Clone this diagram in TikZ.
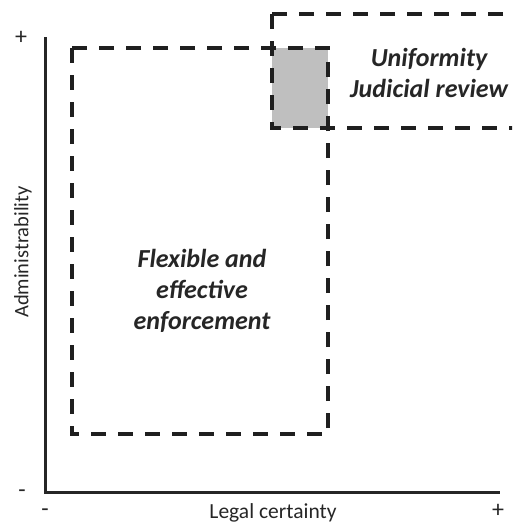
\documentclass[tikz,border=0pt]{standalone}
\usepackage{fontspec}
\setmainfont{Carlito}
\begin{document}
\begin{tikzpicture}[x=1pt,y=-1pt,
  axis/.style={line width=3pt, draw=black!85},
  region/.style={line width=4.5pt, draw=black!88, dash pattern=on 15pt off 12pt},
  zonelabel/.style={font=\fontsize{26}{31}\selectfont\bfseries\itshape, text=black!85, align=center},
  sign/.style={font=\fontsize{24}{26}\selectfont, text=black!85, inner sep=0pt}]
  \useasboundingbox (0,0) rectangle (512,525);
  \clip (0,0) rectangle (512,525);
  % overlap of the two regions
  \fill[black!25] (272,48) rectangle (328,128);
  % axes
  \coordinate (origin) at (45,492);
  \coordinate (ytop) at (45,37);
  \coordinate (xend) at (500,492);
  \draw[axis] (ytop) -- (origin) -- (xend);
  % dashed regions
  \draw[region] (72,48) rectangle (328,434);
  \draw[region] (272,14) rectangle (530,128);
  % region labels
  \node[zonelabel] (flex) at (202,291) {Flexible and\\effective\\enforcement};
  \node[zonelabel] (unif) at (429,73) {Uniformity\\Judicial review};
  % axis labels and signs
  \node[font=\fontsize{21.5}{24}\selectfont, text=black!85, inner sep=0pt] (xlab) at (273,513) {Legal certainty};
  \node[font=\fontsize{20.5}{24}\selectfont, text=black!85, rotate=90] (ylab) at (23,252) {Administrability};
  \node[sign] (yplus) at (21,38) {+};
  \node[sign] (yminus) at (22,494) {-};
  \node[sign] (xminus) at (45,513) {-};
  \node[sign] (xplus) at (498,511) {+};
\end{tikzpicture}
\end{document}
